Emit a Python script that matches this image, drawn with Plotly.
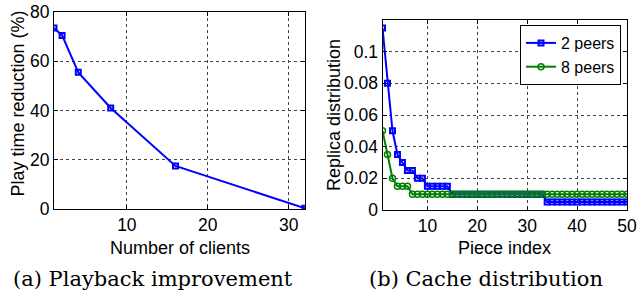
import plotly.graph_objects as go

# Left chart data
clients = [1, 2, 4, 8, 16, 32]
reduction = [73.5, 70.5, 55.5, 41, 17.5, 0.3]

# Right chart data
pieces = list(range(1, 51))
peers2 = [0.115, 0.08, 0.05, 0.035, 0.03, 0.025, 0.025, 0.02, 0.02,
          0.015, 0.015, 0.015, 0.015, 0.015] + [0.01] * 19 + [0.005] * 17
peers8 = [0.05, 0.035, 0.02, 0.015, 0.015, 0.015] + [0.01] * 44

left_xticks = [10, 20, 30]
left_yticks = [0, 20, 40, 60, 80]
right_xticks = [10, 20, 30, 40, 50]
right_yticks = [0, 0.02, 0.04, 0.06, 0.08, 0.1]
right_ytext = ["0", "0.02", "0.04", "0.06", "0.08", "0.1"]

FONT = "Liberation Sans, Arial, sans-serif"
SERIF = "DejaVu Serif, serif"
FS = 17.5
TS = 18
W, H = 638, 296

fig = go.Figure()
fig.add_trace(go.Scatter(x=clients, y=reduction, mode="lines+markers",
                         line=dict(color="#0000ff", width=2),
                         marker=dict(symbol="square-open", size=5, color="#0000ff",
                                     line=dict(width=2, color="#0000ff")),
                         showlegend=False, xaxis="x", yaxis="y"))
fig.add_trace(go.Scatter(x=pieces, y=peers2, mode="lines+markers", name="2 peers",
                         line=dict(color="#0000ff", width=2),
                         marker=dict(symbol="square-open", size=5, color="#0000ff",
                                     line=dict(width=2, color="#0000ff")),
                         xaxis="x2", yaxis="y2"))
fig.add_trace(go.Scatter(x=pieces, y=peers8, mode="lines+markers", name="8 peers",
                         line=dict(color="#008000", width=2),
                         marker=dict(symbol="circle-open", size=6, color="#008000",
                                     line=dict(width=1.5, color="#008000")),
                         xaxis="x2", yaxis="y2"))

axis_common = dict(showline=True, linecolor="black", linewidth=1, mirror="ticks",
                   ticks="inside", ticklen=4, tickcolor="black", automargin=False,
                   showgrid=True, gridcolor="#444444", griddash="dot", gridwidth=1,
                   zeroline=False, tickfont=dict(family=FONT, size=FS, color="black"))


def ann(text, x, y, font, size, angle=0):
    return dict(text=text, x=x / W, y=1 - y / H, xref="paper", yref="paper",
                xanchor="center", yanchor="middle", showarrow=False, textangle=angle,
                font=dict(family=font, size=size, color="black"))


fig.update_layout(
    width=W, height=H,
    margin=dict(l=0, r=0, t=0, b=0),
    paper_bgcolor="white", plot_bgcolor="white",
    font=dict(family=FONT, size=FS, color="black"),
    xaxis=dict(domain=[54/W, 305/W], range=[1, 32], tickvals=left_xticks,
               anchor="y", **axis_common),
    yaxis=dict(domain=[1-209/H, 1-12/H], range=[0, 80], tickvals=left_yticks,
               anchor="x", **axis_common),
    xaxis2=dict(domain=[382.5/W, 627/W], range=[1, 50], tickvals=right_xticks,
                anchor="y2", **axis_common),
    yaxis2=dict(domain=[1-210/H, 1-20/H], range=[0, 0.12], tickvals=right_yticks,
                ticktext=right_ytext, anchor="x2", **axis_common),
    legend=dict(x=621/W, xanchor="right", y=1-25/H, yanchor="top",
                bordercolor="black", borderwidth=1, bgcolor="white",
                font=dict(family=FONT, size=16), tracegroupgap=0),
    annotations=[
        ann("Number of clients", 179.5, 248, FONT, TS),
        ann("Piece index", 504.5, 248, FONT, TS),
        ann("Play time reduction (%)", 17.5, 104, FONT, TS, -90),
        ann("Replica distribution", 334, 115, FONT, TS, -90),
        ann("(a) Playback improvement", 153, 279, SERIF, 21),
        ann("(b) Cache distribution", 486.5, 279, SERIF, 21),
    ],
)

fig.write_html("out.html", config={"displayModeBar": False},
               post_script="document.body.style.margin='0';document.body.style.padding='0';")
